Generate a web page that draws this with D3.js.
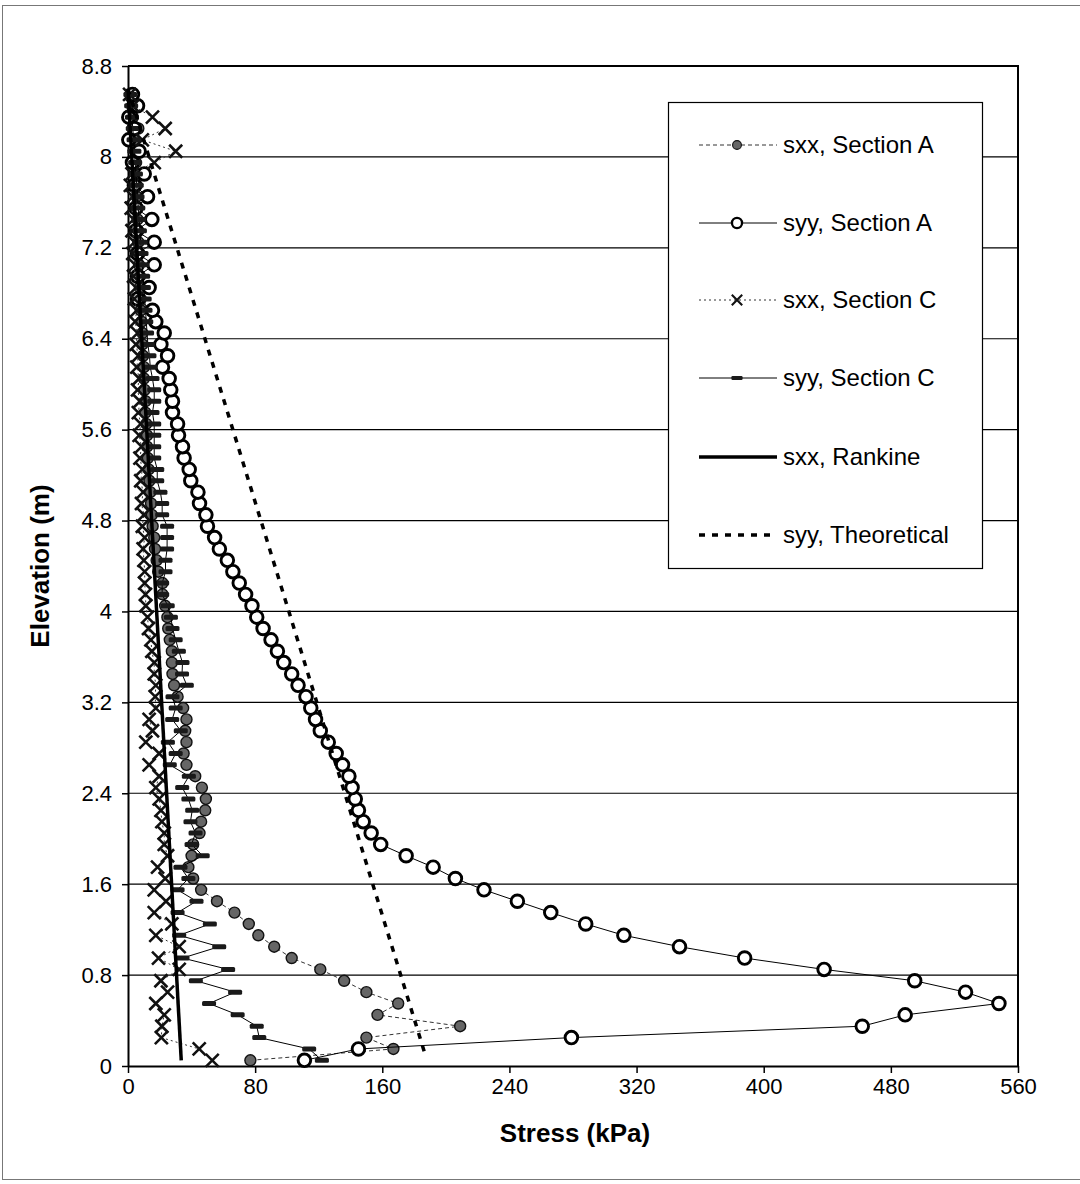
<!DOCTYPE html>
<html><head><meta charset="utf-8">
<script src="https://cdn.jsdelivr.net/npm/d3@7"></script>
<style>body{margin:0;background:#fff}svg{display:block}</style>
</head><body><svg id="c" width="1080" height="1184"></svg>
<script>
// ---- data (stress in kPa, elevation in m) ----
const elevation = [0.05,0.15,0.25,0.35,0.45,0.55,0.65,0.75,0.85,0.95,
  1.05,1.15,1.25,1.35,1.45,1.55,1.65,1.75,1.85,1.95,
  2.05,2.15,2.25,2.35,2.45,2.55,2.65,2.75,2.85,2.95,
  3.05,3.15,3.25,3.35,3.45,3.55,3.65,3.75,3.85,3.95,
  4.05,4.15,4.25,4.35,4.45,4.55,4.65,4.75,4.85,4.95,
  5.05,5.15,5.25,5.35,5.45,5.55,5.65,5.75,5.85,5.95,
  6.05,6.15,6.25,6.35,6.45,6.55,6.65,6.75,6.85,6.95,
  7.05,7.15,7.25,7.35,7.45,7.55,7.65,7.75,7.85,7.95,
  8.05,8.15,8.25,8.35,8.45,8.55];

const sxxSectionA = [77,167,150,209,157,170,150,136,121,103,
  92,82,76,67,56,46,41,38,40,41,
  45,46,48.6,49,46.5,42.3,36.8,35,36.8,36,
  36.8,34.7,31.2,29,28,27.6,27.6,26.3,25.3,24.8,
  23.4,21.7,21.7,19,18,17,16.5,15.5,15,14.5,
  14,13.5,13,12.5,12,12,11.5,11,11,10.5,
  10,10,9.5,9,9,8.5,8,8,7.5,7.5,
  7,7,6.5,6.5,6,6,5.5,5.5,5,5,
  6,4,6.5,3,2.5,1.5];

const syySectionA = [111,145,279,462,489,548,527,495,438,388,
  347,312,288,266,245,224,206,192,175,159,
  153,148,145,143,141,139,135,131,126,121,
  118,115,112,107,103,98,94,90,85,81,
  78,74,70,66,62.5,57.5,54.5,50,49,45,
  44,39.5,38.5,35.3,34.3,31.8,31.2,28,28,26.9,
  25.9,21.7,24.9,20.7,22.8,17.5,15.4,6,13.3,6,
  16.5,6,16.5,5,15,5,12.3,4,10.2,2.8,
  7,0.5,4,0.5,6,2.8];

const sxxSectionC = [53,44.8,21,21.3,22.8,17.5,24.9,20.7,32.2,19.2,
  32.2,17.5,27.6,16.5,23.9,16.5,23.4,18.6,24.9,22.8,
  22.8,21.3,20.7,19.6,17.5,19.6,13.3,19.6,11.2,15.4,
  13.3,17.5,17.1,17.5,16.5,16.5,15,14.4,12.9,12.3,
  11.2,11,10.5,10.5,10,9.5,10.5,9,10,8.5,
  9.5,8,9,7.5,8.5,7,8,6.5,7.5,6,
  7,5.5,6.5,5,6,4.5,5.5,4,5,3.5,
  4.5,3,4,2.5,3.5,2,3,1.5,2.5,16.5,
  30,9,23.4,15.4,3,1];

const syySectionC = [122,114,82.6,81,69,51,67.4,42.7,63,34.3,
  57.4,32.2,51.5,31.2,43.1,31.2,38,33,47,40,
  42.5,39.3,40.4,38,34.1,38.3,26.3,30,25.1,33.2,
  27.8,30,28,37,34,34.3,32,30,28,27,
  25,21.5,21.5,23.6,23.6,24.6,24.6,24.6,21.5,21.5,
  20.4,18.4,18.4,16.5,16.5,16.5,16.5,15.4,16.5,16.5,
  15.4,14,13.5,12.5,12,11.5,11,10.5,10,9.5,
  9,8.5,8,7.5,7,6.5,6,5.5,5,4.5,
  4,3.5,3,2.5,2,1.5];

const rankineElevation = [8.6, 0.05];
const sxxRankine = [0, 33.5];
const theoreticalElevation = [8.6, 0.1];
const syyTheoretical = [0, 187];

const xTicks = [0,80,160,240,320,400,480,560];
const yTicks = [0,0.8,1.6,2.4,3.2,4,4.8,5.6,6.4,7.2,8,8.8];
const yTickLabels = ["0","0.8","1.6","2.4","3.2","4","4.8","5.6","6.4","7.2","8","8.8"];
const seriesNames = ["sxx, Section A","syy, Section A","sxx, Section C","syy, Section C","sxx, Rankine","syy, Theoretical"];

// ---- drawing ----
const svg = d3.select("#c");
const FONT = "'Liberation Sans', Arial, sans-serif";
const L = 128, R = 1018, T = 66, B = 1066;
const x = d3.scaleLinear().domain([0,560]).range([L,R]);
const y = d3.scaleLinear().domain([0,8.8]).range([B,T]);

svg.append("rect").attr("width",1080).attr("height",1184).attr("fill","#fff");
// outer frame
svg.append("rect").attr("x",2.5).attr("y",5.5).attr("width",1100).attr("height",1174)
  .attr("fill","none").attr("stroke","#777").attr("stroke-width",1);

// gridlines
svg.append("g").selectAll("line").data(yTicks.filter(t=>t>0 && t<8.8)).join("line")
  .attr("x1",L).attr("x2",R).attr("y1",d=>y(d)).attr("y2",d=>y(d))
  .attr("stroke","#000").attr("stroke-width",1.2);

// axes
const xAxis = svg.append("g").attr("transform",`translate(0,${B})`)
  .call(d3.axisBottom(x).tickValues(xTicks).tickSize(7).tickSizeOuter(0).tickPadding(5));
const yAxis = svg.append("g").attr("transform",`translate(${L},0)`)
  .call(d3.axisLeft(y).tickValues(yTicks).tickSize(6).tickSizeOuter(0).tickPadding(10)
    .tickFormat((d,i)=>yTickLabels[i]));
[xAxis,yAxis].forEach(g=>{
  g.selectAll("text").attr("font-family",FONT).attr("font-size",22).attr("fill","#000");
  g.selectAll("line").attr("stroke","#000").attr("stroke-width",1.5);
  g.select(".domain").attr("stroke","#000").attr("stroke-width",2);
});
// plot border (top/right)
svg.append("path").attr("d",`M${L},${T}H${R}V${B}`).attr("fill","none").attr("stroke","#000").attr("stroke-width",2);

// axis titles
svg.append("text").attr("x",(L+R)/2+2).attr("y",1142).attr("text-anchor","middle")
  .attr("font-family",FONT).attr("font-weight","bold").attr("font-size",26).text("Stress (kPa)");
svg.append("text").attr("transform",`translate(49,${(T+B)/2}) rotate(-90)`).attr("text-anchor","middle")
  .attr("font-family",FONT).attr("font-weight","bold").attr("font-size",26).text("Elevation (m)");

// series definitions
const markers = {
  greyDot: g=>g.append("circle").attr("r",5.5).attr("fill","#666").attr("stroke","#111").attr("stroke-width",1.4),
  openCircle: g=>g.append("circle").attr("r",6.3).attr("fill","#fff").attr("stroke","#000").attr("stroke-width",2.9),
  cross: g=>g.append("path").attr("d","M-6.5,-6.5L6.5,6.5M-6.5,6.5L6.5,-6.5").attr("stroke","#111").attr("stroke-width",2.6).attr("fill","none"),
  bar: g=>g.append("rect").attr("x",-7).attr("y",-2.5).attr("width",14).attr("height",5).attr("rx",1.5).attr("fill","#1a1a1a"),
  none: g=>{}
};
const series = [
  {name:seriesNames[0], e:elevation, v:sxxSectionA, stroke:"#333", w:1, dash:"4,3", marker:"greyDot"},
  {name:seriesNames[1], e:elevation, v:syySectionA, stroke:"#000", w:1, dash:null, marker:"openCircle"},
  {name:seriesNames[2], e:elevation, v:sxxSectionC, stroke:"#333", w:1, dash:"2,3", marker:"cross"},
  {name:seriesNames[3], e:elevation, v:syySectionC, stroke:"#000", w:1, dash:null, marker:"bar"},
  {name:seriesNames[4], e:rankineElevation, v:sxxRankine, stroke:"#000", w:3.5, dash:null, marker:"none"},
  {name:seriesNames[5], e:theoreticalElevation, v:syyTheoretical, stroke:"#000", w:3.5, dash:"6,7", marker:"none"}
];

const line = d3.line().x(d=>x(d[0])).y(d=>y(d[1]));
series.forEach(s=>{
  const pts = s.v.map((v,i)=>[v, s.e[i]]);
  const g = svg.append("g");
  g.append("path").attr("d",line(pts)).attr("fill","none").attr("stroke",s.stroke)
    .attr("stroke-width",s.w).attr("stroke-dasharray",s.dash);
  if (s.marker !== "none") {
    g.selectAll("g.m").data(pts).join("g").attr("class","m")
      .attr("transform",d=>`translate(${x(d[0])},${y(d[1])})`)
      .each(function(){ markers[s.marker](d3.select(this)); });
  }
});

// legend
const lg = svg.append("g");
lg.append("rect").attr("x",668.5).attr("y",102.5).attr("width",314).attr("height",466)
  .attr("fill","#fff").attr("stroke","#000").attr("stroke-width",1.2);
const legendY = [145,223,300,378,457,535];
series.forEach((s,i)=>{
  const yy = legendY[i];
  lg.append("line").attr("x1",699).attr("x2",777).attr("y1",yy).attr("y2",yy)
    .attr("stroke",s.stroke).attr("stroke-width",s.w).attr("stroke-dasharray",s.dash);
  const mg = lg.append("g").attr("transform",`translate(737,${yy}) scale(0.8)`);
  markers[s.marker](mg);
  lg.append("text").attr("x",783).attr("y",yy).attr("dy","0.35em")
    .attr("font-family",FONT).attr("font-size",24).text(s.name);
});
</script></body></html>
